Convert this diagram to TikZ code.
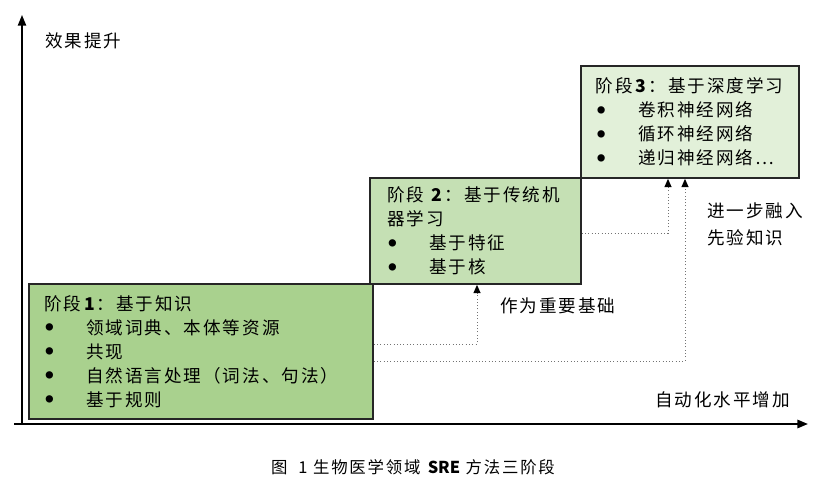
\documentclass[tikz,border=0pt]{standalone}
\usepackage{fontspec}
\setmainfont{Noto Sans CJK SC}[LetterSpace=11]
\usepackage{xcolor}
\usepackage{tikz}
\usetikzlibrary{arrows.meta,positioning}
\definecolor{gone}{HTML}{A9D18E}
\definecolor{gtwo}{HTML}{C5E0B4}
\definecolor{gthree}{HTML}{E2F0D9}
\newcommand{\bul}[1]{\makebox[36pt][l]{\hspace*{1pt}\raisebox{3pt}{\fontsize{7pt}{7pt}\selectfont ●}}#1}

\begin{document}
\begin{tikzpicture}[x=0.03cm, y=-0.03cm,
    box/.style={draw=black!85, line width=1.6pt, anchor=north west, align=left,
                inner xsep=0.45cm, inner ysep=0pt,
                font=\fontsize{15pt}{20.5pt}\selectfont},
    lbl/.style={anchor=west, inner sep=0pt, font=\fontsize{15pt}{22pt}\selectfont},
    axis/.style={-{Triangle[length=9pt,width=7pt]}, line width=1.8pt},
    dotarr/.style={-{Triangle[length=7pt,width=6pt,black]}, draw=black!55, dotted, line width=0.8pt}
]
\useasboundingbox (0,0) rectangle (837,485);
% axes
\coordinate (o) at (22,424);
\coordinate (ytop) at (22,15);
\coordinate (xend) at (808,424);
\draw[axis, line width=1.2pt] (o) -- (ytop);
\draw[axis] (14,424) -- (xend);
% stages
\node[box, fill=gone, minimum width=10.32cm, minimum height=4.05cm, text width=9.4cm] (b1) at (28,283)
  {阶段\,\textbf{1}：基于知识\\
   \bul{领域词典、本体等资源}\\
   \bul{共现}\\
   \bul{自然语言处理（词法、句法）}\\
   \bul{基于规则}};
\node[box, fill=gtwo, minimum width=6.33cm, minimum height=3.18cm, text width=5.3cm, inner xsep=0.5cm] (b2) at (369,177)
  {阶段 \textbf{2}：基于传统机\\
   器学习\\
   \bul{基于特征}\\
   \bul{基于核}};
\node[box, fill=gthree, minimum width=6.54cm, minimum height=3.36cm, text width=5.64cm] (b3) at (580,65)
  {阶段\,\textbf{3}：基于深度学习\\
   \bul{卷积神经网络}\\
   \bul{循环神经网络}\\
   \bul{递归神经网络…}};
% links
\draw[dotarr] (b1.east |- 0,344) -| (477,0 |- b2.south);
\draw[dotarr] (b1.east |- 0,361) -| (685,0 |- b3.south);
\draw[dotarr] (b2.east |- 0,233) -| (668,0 |- b3.south);
% labels
\node[lbl] (ylab) at (45,41) {效果提升};
\node[lbl] (xlab) at (655,400) {自动化水平增加};
\node[lbl] (base) at (500,306) {作为重要基础};
\node[lbl, anchor=north west, align=left] (prior) at (707,203) {进一步融入\\[1pt]先验知识};
\node[font=\fontsize{14pt}{16pt}\selectfont] (cap) at (413,467)
  {图\ \ 1 生物医学领域 {\addfontfeature{LetterSpace=0}\textbf{SRE}} 方法三阶段};
\end{tikzpicture}
\end{document}
